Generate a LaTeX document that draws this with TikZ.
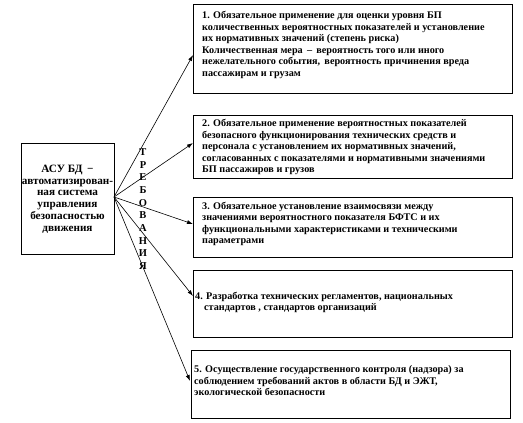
\documentclass[tikz,border=0pt]{standalone}
\usepackage{fontspec}
\setmainfont{Liberation Serif}
\usetikzlibrary{arrows.meta}
\begin{document}
\begin{tikzpicture}[x=1pt,y=-1pt,
  box/.style={draw=black,line width=0.9pt},
  txt/.style={anchor=west,inner sep=0pt,align=left,font=\fontsize{10.2}{11.5}\selectfont\bfseries},
  ctxt/.style={inner sep=0pt,align=center,font=\fontsize{11.2}{11.8}\selectfont\bfseries},
  arr/.style={-{Latex[length=6pt,width=4pt]},line width=0.6pt},
  vlet/.style={inner sep=0pt,font=\fontsize{10.5}{11.5}\selectfont\bfseries}]
\useasboundingbox (0,0) rectangle (523,423);
% left box
\draw[box] (21,143) rectangle (114,254);
\node[ctxt] (asu) at (67.5,199) {АСУ БД \,−\\автоматизирован-\\ная система\\управления\\безопасностью\\движения};
\coordinate (o) at (114,197);
% right boxes
\draw[box] (193,4) rectangle (512,93);
\node[txt] (t1) at (202,45) {1. Обязательное применение для оценки уровня БП\\количественных вероятностных показателей и установление\\их нормативных значений (степень риска)\\Количественная мера \,–\, вероятность того или иного\\нежелательного события, \,вероятность причинения вреда\\пассажирам и грузам};
\draw[box] (193,115) rectangle (512,178);
\node[txt] (t2) at (202,147) {2. Обязательное применение вероятностных показателей\\безопасного функционирования технических средств и\\персонала с установлением их нормативных значений,\\согласованных с показателями и нормативными значениями\\БП пассажиров и грузов};
\draw[box] (193,197) rectangle (512,257);
\node[txt] (t3) at (202,224) {3. Обязательное установление взаимосвязи между\\значениями вероятностного показателя БФТС и их\\функциональными характеристиками и техническими\\параметрами};
\draw[box] (193,270) rectangle (512,337);
\node[txt] (t4) at (195,302.5) {4. Разработка технических регламентов, национальных\\\hspace*{9pt}стандартов , стандартов организаций};
\draw[box] (191,350) rectangle (510,418);
\node[txt] (t5) at (194,381) {5. Осуществление государственного контроля (надзора) за\\соблюдением требований актов в области БД и ЭЖТ,\\экологической безопасности};
% arrow targets
\coordinate (e1) at (193,55);
\coordinate (e2) at (193,143);
\coordinate (e3) at (193,224);
\coordinate (e4) at (193,296);
\coordinate (e5) at (190,381);
\foreach \e in {e1,e2,e3,e4,e5} \draw[arr] (o) -- (\e);
% vertical word
\foreach \l [count=\i from 0] in {Т,Р,Е,Б,О,В,А,Н,И,Я}
  \node[vlet] (v\i) at (143,{152+12.67*\i}) {\l};
\end{tikzpicture}
\end{document}
